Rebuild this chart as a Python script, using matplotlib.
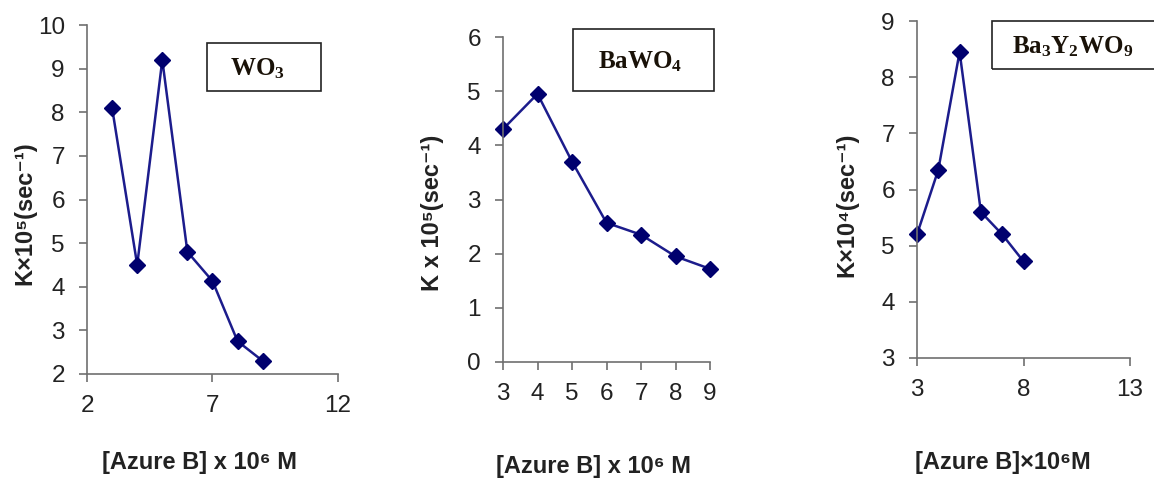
import numpy as np
import matplotlib
matplotlib.use("Agg")
import matplotlib.pyplot as plt

plt.rcParams["mathtext.fontset"] = "custom"
plt.rcParams["mathtext.bf"] = "Liberation Serif:bold"
plt.rcParams["mathtext.rm"] = "Liberation Serif:bold"

# data
conc = [3, 4, 5, 6, 7, 8, 9]
k_wo3 = [8.1, 4.5, 9.2, 4.8, 4.13, 2.75, 2.3]
k_bawo4 = [4.3, 4.95, 3.7, 2.57, 2.35, 1.95, 1.72]
conc_bay = [3, 4, 5, 6, 7, 8]
k_bay = [5.2, 6.35, 8.45, 5.6, 5.2, 4.72]

labels = [r"$\mathbf{WO_3}$", r"$\mathbf{BaWO_4}$", r"$\mathbf{Ba_3Y_2WO_9}$"]
ylabels = ["K×10⁵(sec⁻¹)", "K x 10⁵(sec⁻¹)", "K×10⁴(sec⁻¹)"]
xlabels = ["[Azure B] x 10⁶ M", "[Azure B] x 10⁶ M", "[Azure B]×10⁶M"]

W, H = 1154, 479
fig = plt.figure(figsize=(W / 100, H / 100), dpi=100)

sans = ["Liberation Sans", "DejaVu Sans"]
line_col = "#1c1c8c"
mark_col = "#00006e"

def make_ax(l, t, r, b):
    return fig.add_axes([l / W, 1 - b / H, (r - l) / W, (b - t) / H])

# pixel boxes of the plot areas
ax1 = make_ax(87, 25, 338, 374)
ax2 = make_ax(503, 37, 710, 362)
ax3 = make_ax(917, 21, 1130, 358)

panels = [
    (ax1, conc, k_wo3, (2, 12), (2, 10), [2, 7, 12], np.arange(2, 11)),
    (ax2, conc, k_bawo4, (3, 9), (0, 6), np.arange(3, 10), np.arange(0, 7)),
    (ax3, conc_bay, k_bay, (3, 13), (3, 9), [3, 8, 13], np.arange(3, 10)),
]

for ax, x, y, xl, yl, xt, yt in panels:
    ax.plot(x, y, color=line_col, lw=1.8, marker="D", ms=8.5,
            mfc=mark_col, mec=mark_col, clip_on=False)
    ax.set_xlim(xl)
    ax.set_ylim(yl)
    ax.set_xticks(xt)
    ax.set_yticks(yt)
    for s in ["top", "right"]:
        ax.spines[s].set_visible(False)
    for s in ["left", "bottom"]:
        ax.spines[s].set_color("#707070")
        ax.spines[s].set_linewidth(1.2)
    ax.tick_params(direction="out", length=6, width=1.2, color="#707070",
                   labelsize=17.5, labelcolor="#222222")
    ax.tick_params(axis="x", pad=9)
    ax.tick_params(axis="y", pad=10)
    for lab in ax.get_xticklabels() + ax.get_yticklabels():
        lab.set_family(sans)

# y labels
fig.text(25 / W, 1 - 213 / H, ylabels[0], rotation=90, ha="center", va="center",
         fontsize=17, fontweight="bold", family=sans, color="#222222")
fig.text(433 / W, 1 - 213 / H, ylabels[1], rotation=90, ha="center", va="center",
         fontsize=17, fontweight="bold", family=sans, color="#222222")
fig.text(847 / W, 1 - 205 / H, ylabels[2], rotation=90, ha="center", va="center",
         fontsize=17, fontweight="bold", family=sans, color="#222222")

# x labels
fig.text(200 / W, 1 - 462 / H, xlabels[0], ha="center", va="center",
         fontsize=17, fontweight="bold", family=sans, color="#222222")
fig.text(593 / W, 1 - 467 / H, xlabels[1], ha="center", va="center",
         fontsize=17, fontweight="bold", family=sans, color="#222222")
fig.text(1003 / W, 1 - 462 / H, xlabels[2], ha="center", va="center",
         fontsize=17, fontweight="bold", family=sans, color="#222222")

# boxed material names
boxes = [(207, 43, 321, 91), (573, 29, 714, 91), (992, 21, 1160, 69)]
centers = [257, 640, 1073]
for (l, t, r, b), name, cx in zip(boxes, labels, centers):
    fig.patches.append(plt.Rectangle((l / W, 1 - b / H), (r - l) / W, (b - t) / H,
                                     transform=fig.transFigure, fill=False,
                                     edgecolor="#222222", lw=1.2))
    fig.text(cx / W, 1 - ((t + b) / 2 + 2) / H, name, ha="center", va="center",
             fontsize=18, color="#1a1208")

fig.savefig("out.png", dpi=100)
